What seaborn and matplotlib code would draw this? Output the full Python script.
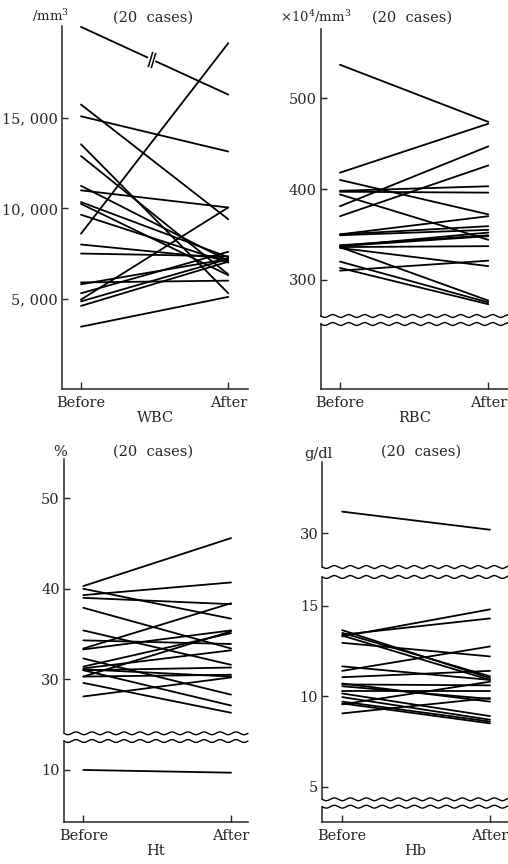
import numpy as np
import pandas as pd
import seaborn as sns
import matplotlib.pyplot as plt
from matplotlib.lines import Line2D

# Before / After values of the 20 cases
wbc_before = [20050, 8600, 15750, 15100, 13550, 12900, 11250, 11000, 10350, 10250,
              9650, 8000, 7500, 5900, 5800, 5300, 4950, 4850, 4600, 3450]
wbc_after = [16300, 19150, 9400, 13150, 5300, 6350, 7100, 10050, 7300, 6300,
             7000, 7200, 7350, 6000, 7200, 7600, 10050, 7200, 7050, 5100]

rbc_before = [537, 418, 381, 370, 410, 398, 397, 394, 350, 350,
              349, 338, 337, 336, 335, 336, 320, 313, 310, 337]
rbc_after = [474, 472, 447, 426, 372, 403, 396, 344, 370, 359,
             355, 349, 348, 337, 315, 277, 275, 273, 321, 352]

ht_before = [40.3, 39.3, 40.0, 39.0, 37.9, 35.4, 34.3, 33.4, 33.3, 32.3,
             31.4, 31.2, 31.0, 31.1, 31.0, 30.3, 30.3, 29.6, 28.1, 10.0]
ht_after = [45.6, 40.7, 36.7, 38.3, 33.4, 31.6, 33.9, 38.4, 35.4, 28.3,
            35.1, 33.2, 31.3, 30.3, 27.1, 35.3, 30.5, 26.3, 30.2, 9.7]

hb_before = [31.2, 13.3, 13.4, 12.95, 13.65, 13.5, 11.4, 11.65, 11.05, 10.65,
             10.55, 10.3, 10.15, 9.95, 9.7, 9.6, 9.55, 9.05, 13.35, 10.7]
hb_after = [30.2, 14.8, 14.3, 12.2, 11.0, 11.1, 12.75, 10.9, 11.4, 10.6,
            9.85, 10.3, 8.9, 8.7, 8.6, 8.5, 10.8, 9.9, 10.9, 9.7]

time_labels = ["Before", "After"]
wbc_ticks = [5000, 10000, 15000]
wbc_ticklabels = ["5, 000", "10, 000", "15, 000"]
rbc_ticks = [300, 400, 500]
ht_ticks_top = [30, 40, 50]
ht_ticks_low = [10]
hb_ticks_top = [30]
hb_ticks_mid = [5, 10, 15]

W, H = 508, 864
sns.set_style("ticks")
plt.rcParams["font.family"] = ["DejaVu Serif"]
plt.rcParams["mathtext.fontset"] = "dejavuserif"
FS = 10.5

fig = plt.figure(figsize=(W / 100, H / 100), dpi=100)


def long_df(before, after):
    n = len(before)
    return pd.DataFrame({"case": list(range(n)) * 2,
                         "time": [0] * n + [1] * n,
                         "value": list(before) + list(after)})


def px_axes(x0, x1, y0, y1):
    return fig.add_axes([x0 / W, 1 - y1 / H, (x1 - x0) / W, (y1 - y0) / H])


def wave(x0, x1, y, amp=1.4, period=16):
    xs = np.linspace(x0, x1, 500)
    ys = y + amp * np.sin(2 * np.pi * (xs - x0) / period)
    fig.add_artist(Line2D(xs / W, 1 - ys / H, transform=fig.transFigure,
                          color="black", lw=1.0))


def segment(df, box, xlim, ylim, ticks=None, ticklabels=None, bottom=False, draw=True):
    ax = px_axes(*box)
    if draw:
        sns.lineplot(data=df, x="time", y="value", units="case", estimator=None,
                     color="black", linewidth=1.3, ax=ax, legend=False)
    ax.set_xlim(xlim)
    ax.set_ylim(ylim)
    ax.set_ylabel("")
    ax.set_xlabel("")
    for s in ["top", "right"]:
        ax.spines[s].set_visible(False)
    ax.spines["left"].set_linewidth(1.1)
    ax.spines["bottom"].set_linewidth(1.1)
    if ticks:
        ax.set_yticks(ticks)
        ax.set_yticklabels(ticklabels if ticklabels else [str(t) for t in ticks])
    else:
        ax.set_yticks([])
    ax.tick_params(axis="y", direction="in", length=4, width=1, pad=3, labelsize=FS)
    if bottom:
        ax.set_xticks([0, 1])
        ax.set_xticklabels(time_labels)
        ax.tick_params(axis="x", direction="in", length=5, width=1, pad=5, labelsize=FS)
    else:
        ax.spines["bottom"].set_visible(False)
        ax.set_xticks([])
    return ax


# WBC
df = long_df(wbc_before, wbc_after)
ax = segment(df, (62, 248, 26, 389), (-0.129, 1.134), (0, 20100),
             wbc_ticks, wbc_ticklabels, bottom=True)
ax.set_xlabel("WBC", fontsize=FS, labelpad=1)
# break mark on the off-scale top line
bx = 0.48
by = wbc_before[0] + bx * (wbc_after[0] - wbc_before[0])
ax.plot([bx - 0.025, bx + 0.025],
        [by - 0.025 * (wbc_after[0] - wbc_before[0]), by + 0.025 * (wbc_after[0] - wbc_before[0])],
        color="white", lw=3, solid_capstyle="butt")
for dx in (-0.012, 0.012):
    ax.plot([bx + dx], [by + dx * (wbc_after[0] - wbc_before[0])], linestyle="none",
            marker=[(-0.3, -1), (0.3, 1)], ms=11, mec="black", mew=1.1)
fig.text(50 / W, 1 - 16 / H, "/mm$^3$", ha="center", va="center", fontsize=FS - 1)
fig.text(153 / W, 1 - 18 / H, "(20  cases)", ha="center", va="center", fontsize=FS)

# RBC
df = long_df(rbc_before, rbc_after)
segment(df, (320.7, 508, 29, 316), (-0.130, 1.133), (260, 576.4), rbc_ticks)
ax = segment(df, (320.7, 508, 324, 389), (-0.130, 1.133), (0, 1), bottom=True, draw=False)
ax.set_xlabel("RBC", fontsize=FS, labelpad=1)
wave(320.7, 508, 316)
wave(320.7, 508, 324)
fig.text(316 / W, 1 - 17 / H, r"$\times10^4$/mm$^3$", ha="center", va="center", fontsize=FS - 1)
fig.text(412 / W, 1 - 18 / H, "(20  cases)", ha="center", va="center", fontsize=FS)

# Ht
df = long_df(ht_before, ht_after)
segment(df, (64, 248, 459.3, 733.3), (-0.131, 1.115), (24.03, 54.31), ht_ticks_top)
ax = segment(df, (64, 248, 741, 822), (-0.131, 1.115), (4.25, 13.2), ht_ticks_low, bottom=True)
ax.set_xlabel("Ht", fontsize=FS, labelpad=1)
wave(64, 248, 733.3)
wave(64, 248, 741)
fig.text(60 / W, 1 - 452 / H, "%", ha="center", va="center", fontsize=FS)
fig.text(153 / W, 1 - 452 / H, "(20  cases)", ha="center", va="center", fontsize=FS)

# Hb
df = long_df(hb_before, hb_after)
segment(df, (322.3, 508, 461.7, 567), (-0.135, 1.122), (28.14, 33.96), hb_ticks_top)
segment(df, (322.3, 508, 577, 799.3), (-0.135, 1.122), (4.30, 16.59), hb_ticks_mid)
ax = segment(df, (322.3, 508, 806.7, 822), (-0.135, 1.122), (0, 1), bottom=True, draw=False)
ax.set_xlabel("Hb", fontsize=FS, labelpad=1)
wave(322.3, 508, 567)
wave(322.3, 508, 577)
wave(322.3, 508, 799.3)
wave(322.3, 508, 806.7)
fig.text(318 / W, 1 - 454 / H, "g/dl", ha="center", va="center", fontsize=FS)
fig.text(421 / W, 1 - 452 / H, "(20  cases)", ha="center", va="center", fontsize=FS)

fig.savefig("out.png", dpi=100)
